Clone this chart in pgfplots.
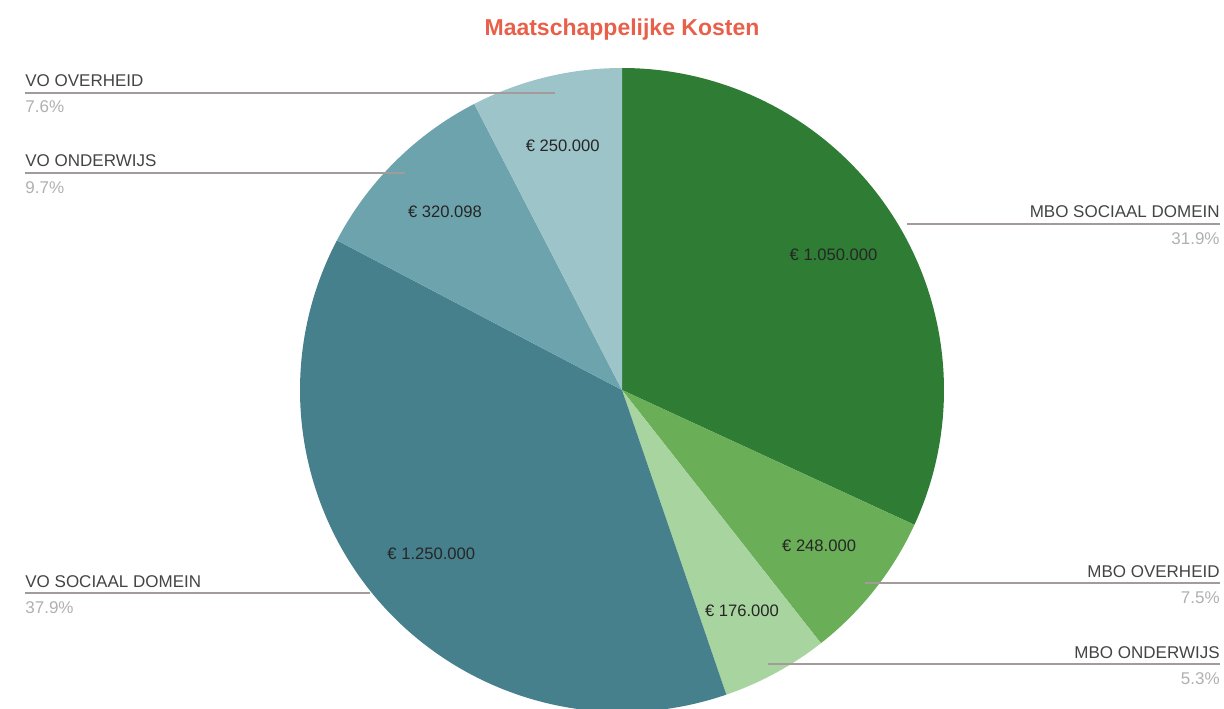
\documentclass[border=0pt]{standalone}
\usepackage{fontspec}
\setmainfont{Liberation Sans}
\usepackage{pgfplots}
\usepackage{pgfplotstable}
\pgfplotsset{compat=1.18}

\definecolor{slice0}{HTML}{2F7D34}
\definecolor{slice1}{HTML}{6AAE58}
\definecolor{slice2}{HTML}{A8D59F}
\definecolor{slice3}{HTML}{46808C}
\definecolor{slice4}{HTML}{6CA3AD}
\definecolor{slice5}{HTML}{9DC4C8}
\definecolor{titlered}{HTML}{E8604A}
\definecolor{leader}{HTML}{A39B9B}
\definecolor{labtext}{HTML}{444444}
\definecolor{pcttext}{HTML}{B0B0B0}

% kosten in duizenden euro, met de klok mee vanaf 12 uur
\pgfplotstableread[col sep=comma]{
name,value,label
MBO SOCIAAL DOMEIN,1050.000,€ 1.050.000
MBO OVERHEID,248.000,€ 248.000
MBO ONDERWIJS,176.000,€ 176.000
VO SOCIAAL DOMEIN,1250.000,€ 1.250.000
VO ONDERWIJS,320.098,€ 320.098
VO OVERHEID,250.000,€ 250.000
}\kosten

% pie centre and radius in pixel units of the axis
\def\cx{622}
\def\cy{318}
\def\rr{322}

\gdef\total{0}
\pgfplotstableforeachcolumnelement{value}\of\kosten\as\v{%
  \pgfmathsetmacro\tmp{\total+\v}\xdef\total{\tmp}}

\gdef\cur{90}
\pgfplotstableforeachcolumnelement{value}\of\kosten\as\v{%
  \pgfmathsetmacro\frac{\v/\total}%
  \pgfmathsetmacro\nxt{\cur-360*\frac}%
  \pgfmathsetmacro\mid{(\cur+\nxt)/2}%
  \pgfmathsetmacro\sx{\cx+\rr*cos(\cur)}%
  \pgfmathsetmacro\sy{\cy+\rr*sin(\cur)}%
  \pgfmathsetmacro\lx{\cx+0.78*\rr*cos(\mid)}%
  \pgfmathsetmacro\ly{\cy+0.78*\rr*sin(\mid)}%
  \expandafter\xdef\csname a\pgfplotstablerow\endcsname{\cur}%
  \expandafter\xdef\csname b\pgfplotstablerow\endcsname{\nxt}%
  \expandafter\xdef\csname sx\pgfplotstablerow\endcsname{\sx}%
  \expandafter\xdef\csname sy\pgfplotstablerow\endcsname{\sy}%
  \expandafter\xdef\csname lx\pgfplotstablerow\endcsname{\lx}%
  \expandafter\xdef\csname ly\pgfplotstablerow\endcsname{\ly}%
  \xdef\cur{\nxt}}

\pgfplotstableforeachcolumnelement{label}\of\kosten\as\t{%
  \expandafter\xdef\csname lab\pgfplotstablerow\endcsname{\t}}

\begin{document}
\begin{tikzpicture}
\begin{axis}[
    hide axis,
    scale only axis,
    width=612pt, height=354pt,
    xmin=0, xmax=1224, ymin=0, ymax=708,
    enlargelimits=false,
    clip=true,
]
\pgfplotsinvokeforeach{0,...,5}{
  \fill[slice#1] (axis cs:\cx,\cy) -- (axis cs:\csname sx#1\endcsname,\csname sy#1\endcsname)
     arc[start angle=\csname a#1\endcsname, end angle=\csname b#1\endcsname, radius=161pt] -- cycle;
  \node[font=\fontsize{8.3}{10}\selectfont, text=black!85] at (axis cs:\csname lx#1\endcsname,\csname ly#1\endcsname) {\csname lab#1\endcsname};
}

% title
\node[font=\fontsize{11.5}{14}\selectfont\bfseries, text=titlered] at (axis cs:622,678) {Maatschappelijke Kosten};

% leader lines and labels (left side)
\draw[leader, line width=0.9pt] (axis cs:25,615) -- (axis cs:555,615);
\node[anchor=base west, font=\fontsize{8.5}{10}\selectfont, text=labtext, inner sep=0pt] at (axis cs:25,621) {VO OVERHEID};
\node[anchor=base west, font=\fontsize{8.5}{10}\selectfont, text=pcttext, inner sep=0pt] at (axis cs:25,595) {7.6\%};

\draw[leader, line width=0.9pt] (axis cs:25,535) -- (axis cs:405,535);
\node[anchor=base west, font=\fontsize{8.5}{10}\selectfont, text=labtext, inner sep=0pt] at (axis cs:25,541) {VO ONDERWIJS};
\node[anchor=base west, font=\fontsize{8.5}{10}\selectfont, text=pcttext, inner sep=0pt] at (axis cs:25,515) {9.7\%};

\draw[leader, line width=0.9pt] (axis cs:25,115) -- (axis cs:370,115);
\node[anchor=base west, font=\fontsize{8.5}{10}\selectfont, text=labtext, inner sep=0pt] at (axis cs:25,121) {VO SOCIAAL DOMEIN};
\node[anchor=base west, font=\fontsize{8.5}{10}\selectfont, text=pcttext, inner sep=0pt] at (axis cs:25,95) {37.9\%};

% right side
\draw[leader, line width=0.9pt] (axis cs:907,484) -- (axis cs:1220,484);
\node[anchor=base east, font=\fontsize{8.5}{10}\selectfont, text=labtext, inner sep=0pt] at (axis cs:1220,490) {MBO SOCIAAL DOMEIN};
\node[anchor=base east, font=\fontsize{8.5}{10}\selectfont, text=pcttext, inner sep=0pt] at (axis cs:1220,464) {31.9\%};

\draw[leader, line width=0.9pt] (axis cs:865,125) -- (axis cs:1220,125);
\node[anchor=base east, font=\fontsize{8.5}{10}\selectfont, text=labtext, inner sep=0pt] at (axis cs:1220,131) {MBO OVERHEID};
\node[anchor=base east, font=\fontsize{8.5}{10}\selectfont, text=pcttext, inner sep=0pt] at (axis cs:1220,105) {7.5\%};

\draw[leader, line width=0.9pt] (axis cs:768,44) -- (axis cs:1220,44);
\node[anchor=base east, font=\fontsize{8.5}{10}\selectfont, text=labtext, inner sep=0pt] at (axis cs:1220,50) {MBO ONDERWIJS};
\node[anchor=base east, font=\fontsize{8.5}{10}\selectfont, text=pcttext, inner sep=0pt] at (axis cs:1220,24) {5.3\%};
\end{axis}
\pgfresetboundingbox
\path (current axis.south west) rectangle (current axis.north east);
\end{tikzpicture}
\end{document}
